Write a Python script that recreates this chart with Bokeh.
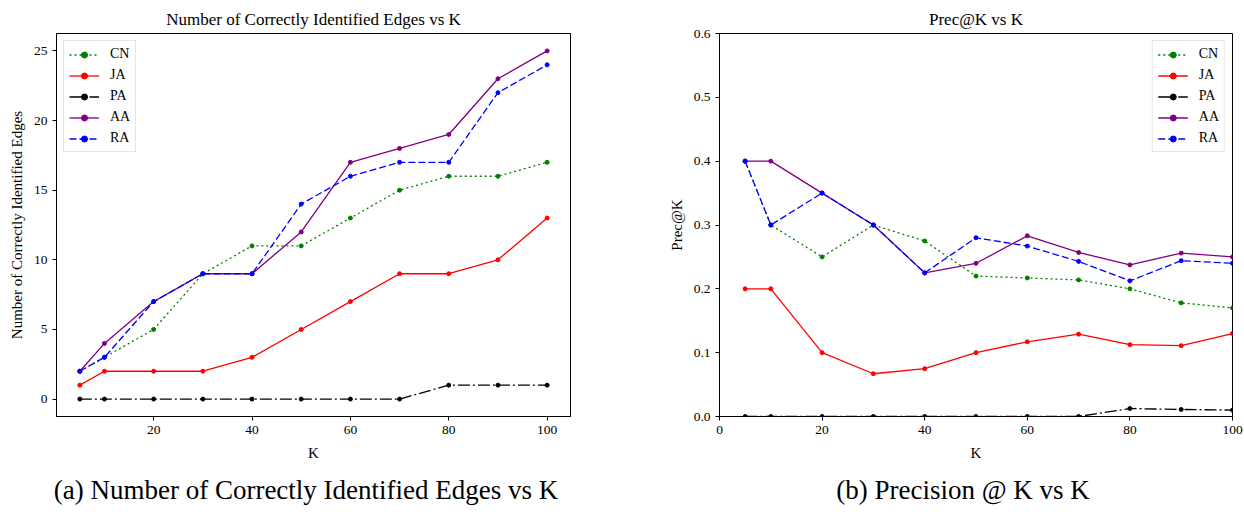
from bokeh.plotting import figure
from bokeh.models import Range1d, FixedTicker, PrintfTickFormatter, Legend, LegendItem, Div
from bokeh.layouts import row, column
from bokeh.embed import file_html
from bokeh.resources import INLINE

# ---- data ----
K = [5, 10, 20, 30, 40, 50, 60, 70, 80, 90, 100]
series_names = ["CN", "JA", "PA", "AA", "RA"]

count_cn = [2, 3, 5, 9, 11, 11, 13, 15, 16, 16, 17]
count_ja = [1, 2, 2, 2, 3, 5, 7, 9, 9, 10, 13]
count_pa = [0, 0, 0, 0, 0, 0, 0, 0, 1, 1, 1]
count_aa = [2, 4, 7, 9, 9, 12, 17, 18, 19, 23, 25]
count_ra = [2, 3, 7, 9, 9, 14, 16, 17, 17, 22, 24]

prec_cn = [0.40, 0.30, 0.25, 0.30, 0.275, 0.22, 0.217, 0.214, 0.20, 0.178, 0.17]
prec_ja = [0.20, 0.20, 0.10, 0.067, 0.075, 0.10, 0.117, 0.129, 0.1125, 0.111, 0.13]
prec_pa = [0.0, 0.0, 0.0, 0.0, 0.0, 0.0, 0.0, 0.0, 0.0125, 0.011, 0.01]
prec_aa = [0.40, 0.40, 0.35, 0.30, 0.225, 0.24, 0.283, 0.257, 0.2375, 0.256, 0.25]
prec_ra = [0.40, 0.30, 0.35, 0.30, 0.225, 0.28, 0.267, 0.243, 0.2125, 0.244, 0.24]

left_title = "Number of Correctly Identified Edges vs K"
right_title = "Prec@K vs K"
left_ylabel = "Number of Correctly Identified Edges"
right_ylabel = "Prec@K"
xlabel = "K"
caption_a = "(a) Number of Correctly Identified Edges vs K"
caption_b = "(b) Precision @ K vs K"

left_yticks = [0, 5, 10, 15, 20, 25]
left_xticks = [20, 40, 60, 80, 100]
right_yticks = [0.0, 0.1, 0.2, 0.3, 0.4, 0.5, 0.6]
right_xticks = [0, 20, 40, 60, 80, 100]

# ---- styles ----
FONT = "Liberation Serif"
styles = {
    "CN": dict(color="#008000", dash="2 3"),
    "JA": dict(color="#ff0000", dash="solid"),
    "PA": dict(color="#000000", dash="12 3 2 3"),
    "AA": dict(color="#800080", dash="solid"),
    "RA": dict(color="#0000ff", dash="7 3"),
}


def make_panel(title, ylabel, data, xr, yr, xticks, yticks, yfmt, width, height,
               bl, br, bt, bb, legend_loc):
    p = figure(width=width, height=height, output_backend="svg", toolbar_location=None,
               x_range=Range1d(*xr), y_range=Range1d(*yr),
               min_border_left=bl, min_border_right=br, min_border_top=bt, min_border_bottom=bb)
    p.title.text = title
    p.title.align = "center"
    p.title.text_font = FONT
    p.title.text_font_size = "17px"
    p.title.text_font_style = "normal"
    p.title.text_color = "black"
    p.title.standoff = 9
    p.grid.visible = False
    p.outline_line_color = "black"
    p.outline_line_width = 1
    p.background_fill_color = "white"
    p.border_fill_color = "white"
    for ax in (p.xaxis[0], p.yaxis[0]):
        ax.axis_line_color = "black"
        ax.major_tick_line_color = "black"
        ax.major_tick_out = 4
        ax.major_tick_in = 0
        ax.minor_tick_line_color = None
        ax.major_label_text_font = FONT
        ax.major_label_text_font_size = "13.5px"
        ax.major_label_text_color = "black"
        ax.axis_label_text_font = FONT
        ax.axis_label_text_font_size = "15px"
        ax.axis_label_text_font_style = "normal"
        ax.axis_label_text_color = "black"
    p.xaxis[0].ticker = FixedTicker(ticks=xticks)
    p.yaxis[0].ticker = FixedTicker(ticks=yticks)
    p.yaxis[0].formatter = PrintfTickFormatter(format=yfmt)
    p.xaxis[0].axis_label = xlabel
    p.yaxis[0].axis_label = ylabel
    p.xaxis[0].axis_label_standoff = 8
    p.yaxis[0].axis_label_standoff = 6

    items = []
    for name, vals in zip(series_names, data):
        st = styles[name]
        rl = p.line(K, vals, line_color=st["color"], line_width=1.3, line_dash=st["dash"])
        rs = p.scatter(K, vals, size=4, fill_color=st["color"], line_color=st["color"])
        items.append(LegendItem(label=name, renderers=[rl, rs]))
    leg = Legend(items=items, location=legend_loc)
    leg.label_text_font = FONT
    leg.label_text_font_size = "14px"
    leg.label_text_color = "black"
    leg.glyph_width = 30
    leg.glyph_height = 15
    leg.label_height = 15
    leg.spacing = 5
    leg.padding = 5
    leg.margin = 7
    leg.label_standoff = 11
    leg.border_line_color = "#cccccc"
    leg.border_line_width = 1
    leg.background_fill_alpha = 0.9
    p.add_layout(leg)
    return p


p1 = make_panel(left_title, left_ylabel,
                [count_cn, count_ja, count_pa, count_aa, count_ra],
                (0.25, 104.75), (-1.25, 26.25), left_xticks, left_yticks, "%d",
                620, 468, 56, 50, 33, 52, "top_left")
p2 = make_panel(right_title, right_ylabel,
                [prec_cn, prec_ja, prec_pa, prec_aa, prec_ra],
                (0, 100), (0, 0.6), right_xticks, right_yticks, "%.1f",
                624, 468, 99, 12, 33, 52, "top_right")

cap_style = ("font-family:'Liberation Serif';font-size:27px;line-height:30px;"
             "color:black;white-space:nowrap;padding-top:2px;text-align:center;")
d1 = Div(text='<div style="%swidth:602px;">%s</div>' % (cap_style, caption_a),
         width=620, height=44)
d2 = Div(text='<div style="%swidth:656px;">%s</div>' % (cap_style, caption_b),
         width=624, height=44)

layout = column(row(p1, p2), row(d1, d2))

open("out.html", "w").write(file_html(layout, INLINE))
